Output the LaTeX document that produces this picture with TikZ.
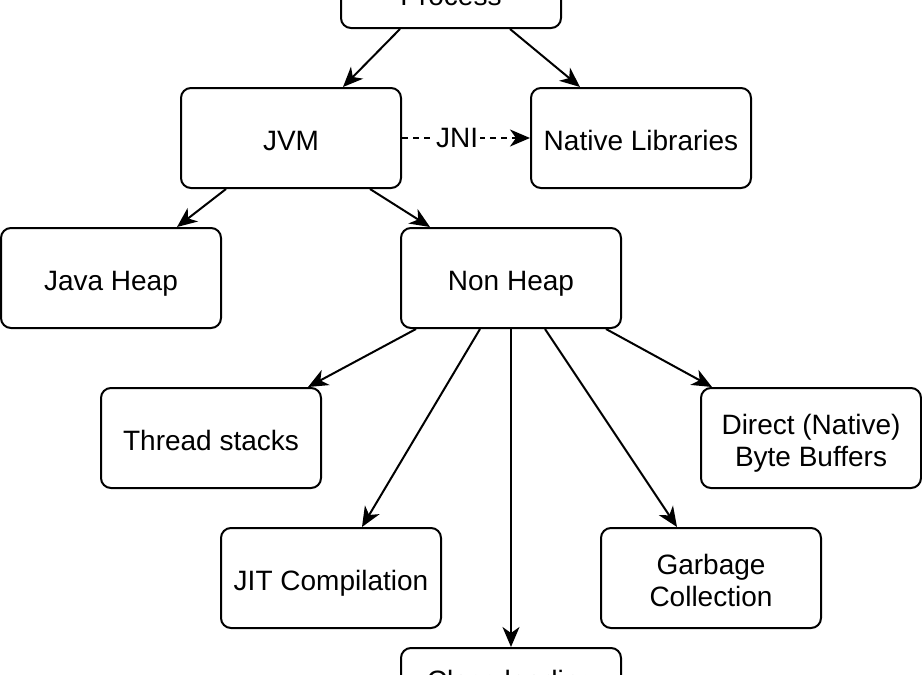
\documentclass[tikz,border=0pt]{standalone}
\usepackage{fontspec}
\setmainfont{Liberation Sans}
\usetikzlibrary{positioning,arrows.meta}

\begin{document}
\begin{tikzpicture}[on grid,
   line width=1pt,
   >={Stealth[length=10pt,width=8.5pt,inset=3pt]},
   block/.style={draw,rounded corners=5pt,minimum width=110pt,minimum height=50pt,
      align=center,font=\fontsize{14pt}{16pt}\selectfont,
      execute at begin node=\rule{0pt}{15pt},
      execute at end node=\rule[-3pt]{0pt}{0pt}},
   lowblock/.style={block,minimum height=30pt},
   twoline/.style={block,execute at begin node=\rule{0pt}{31pt}}]
   \useasboundingbox (0,0) rectangle (461pt,-337.5pt);

   \node[block,minimum height=35pt] (proc) at (225.5pt,3.5pt) {Process};
   \node[block] (jvm) [below left=72.5pt and 80pt of proc] {JVM};
   \node[block] (native) [right=175pt of jvm] {Native Libraries};
   \node[block] (jheap) [below left=70pt and 90pt of jvm] {Java Heap};
   \node[block] (nonheap) [below right=70pt and 110pt of jvm] {Non Heap};
   \node[block] (thread) [below left=80pt and 150pt of nonheap] {Thread stacks};
   \node[twoline] (direct) [below right=80pt and 150pt of nonheap] {Direct (Native)\\Byte Buffers};
   \node[block] (jit) [below left=150pt and 90pt of nonheap] {JIT Compilation};
   \node[twoline] (gc) [below right=150pt and 100pt of nonheap] {Garbage\\Collection};
   \node[lowblock] (cls) [below=200pt of nonheap] {Class loading};

   \path[->]
   ([xshift=-25.5pt]proc.south) edge ([xshift=26pt]jvm.north)
   ([xshift=29.5pt]proc.south) edge ([xshift=-30.5pt]native.north)
   ([xshift=-32.5pt]jvm.south) edge ([xshift=33pt]jheap.north)
   ([xshift=39.5pt]jvm.south) edge ([xshift=-40.5pt]nonheap.north)
   ([xshift=-47.5pt]nonheap.south) edge ([xshift=48.5pt]thread.north)
   ([xshift=-15.5pt]nonheap.south) edge ([xshift=15.5pt]jit.north)
   (nonheap.south) edge (cls.north)
   ([xshift=17pt]nonheap.south) edge ([xshift=-17pt]gc.north)
   ([xshift=47.5pt]nonheap.south) edge ([xshift=-49.5pt]direct.north);

   \path[->,dash pattern=on 3pt off 2.5pt]
   (jvm) edge node[pos=0.43,fill=white,inner sep=1pt,font=\fontsize{14pt}{16pt}\selectfont] {JNI} (native);
\end{tikzpicture}
\end{document}
